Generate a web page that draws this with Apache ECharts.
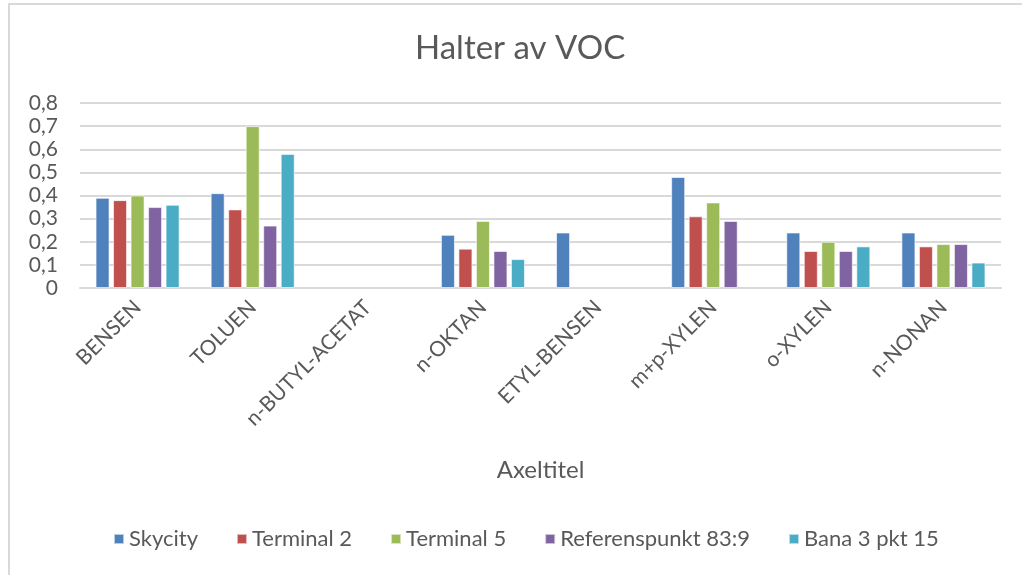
<!DOCTYPE html>
<html>
<head>
<meta charset="utf-8">
<title>Halter av VOC</title>
<script src="https://cdn.jsdelivr.net/npm/echarts@6/dist/echarts.min.js"></script>
<style>
  html, body { margin: 0; padding: 0; background: #fff; }
  #chart { width: 1022px; height: 575px; }
</style>
</head>
<body>
<div id="chart"></div>
<script>
// kategorier och mätvärden
var categories = ['BENSEN', 'TOLUEN', 'n-BUTYL-ACETAT', 'n-OKTAN', 'ETYL-BENSEN', 'm+p-XYLEN', 'o-XYLEN', 'n-NONAN']
var skycity = [0.39, 0.41, null, 0.23, 0.24, 0.48, 0.24, 0.24]
var terminal2 = [0.38, 0.34, null, 0.17, null, 0.31, 0.16, 0.18]
var terminal5 = [0.40, 0.70, null, 0.29, null, 0.37, 0.20, 0.19]
var referens = [0.35, 0.27, null, 0.16, null, 0.29, 0.16, 0.19]
var bana3 = [0.36, 0.58, null, 0.125, null, null, 0.18, 0.11]
var seriesNames = ['Skycity', 'Terminal 2', 'Terminal 5', 'Referenspunkt 83:9', 'Bana 3 pkt 15']
var seriesData = [skycity, terminal2, terminal5, referens, bana3]
var colors = ['#4F81BD', '#C0504D', '#9BBB59', '#8064A2', '#4BACC6']

var font = 'Lato'
var textColor = '#595959'

var chart = echarts.init(document.getElementById('chart'))
chart.setOption({
  animation: false,
  color: colors,
  textStyle: { fontFamily: font },
  title: {
    text: 'Halter av VOC',
    left: 410,
    top: 27,
    textStyle: { fontFamily: font, fontSize: 33, fontWeight: 'normal', color: textColor }
  },
  graphic: [{
    type: 'rect',
    shape: { x: 9, y: 4, width: 1100, height: 700 },
    style: { fill: 'none', stroke: '#d9d9d9', lineWidth: 2 },
    silent: true
  }],
  grid: {
    left: 80,
    right: 21,
    top: 103,
    bottom: 287,
    containLabel: false,
    outerBoundsMode: 'none'
  },
  legend: {
    bottom: 20,
    left: 108,
    icon: 'rect',
    itemWidth: 10,
    itemHeight: 10,
    itemGap: 38,
    textStyle: { fontFamily: font, fontSize: 22, color: textColor },
    data: seriesNames
  },
  xAxis: {
    type: 'category',
    data: categories,
    // \u200C bryter "ti"-ligaturen i Lato
    name: 'Axel\u200Ctitel',
    nameLocation: 'middle',
    nameGap: 170,
    nameTextStyle: { fontFamily: font, fontSize: 24, color: textColor },
    axisLine: { show: true, lineStyle: { color: '#d9d9d9', width: 2 } },
    axisTick: { show: false },
    axisLabel: {
      rotate: 45,
      interval: 0,
      margin: 16,
      fontFamily: font,
      fontSize: 21,
      color: textColor
    }
  },
  yAxis: {
    type: 'value',
    min: 0,
    max: 0.8,
    interval: 0.1,
    axisLine: { show: false },
    axisTick: { show: false },
    splitLine: { lineStyle: { color: '#d9d9d9', width: 2 } },
    axisLabel: {
      margin: 22,
      fontFamily: font,
      fontSize: 21,
      color: textColor,
      formatter: function (v) {
        return String(+v.toFixed(1)).replace('.', ',')
      }
    }
  },
  series: seriesNames.map(function (name, i) {
    return {
      name: name,
      type: 'bar',
      data: seriesData[i],
      barGap: '25%',
      barCategoryGap: '27%',
      itemStyle: { borderColor: 'rgba(255,255,255,0.6)', borderWidth: 1 }
    }
  })
})
</script>
</body>
</html>
